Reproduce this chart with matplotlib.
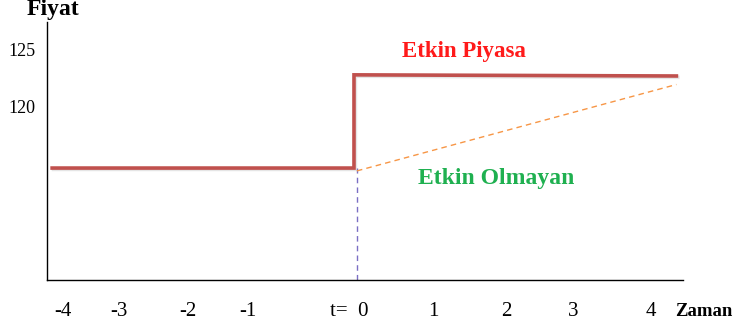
#!/usr/bin/env python3
"""Price path: efficient vs. inefficient market after a shock at t=0."""

import matplotlib

matplotlib.use("Agg")
import matplotlib.patheffects as pe
import matplotlib.pyplot as plt

# tick labels and their positions on the time axis (spacing in the source is uneven)
TICK_POS = [-4.0, -3.24, -2.30, -1.48, -0.10, 1.04, 2.04, 2.94, 4.0]
TICK_LABELS = ["-4", "-3", "-2", "-1", "t=  0", "1", "2", "3", "4"]
Y_TICKS = [120, 125]

# efficient market price path (step at t=0)
EFF_T = [-4.15, -0.04, -0.04, 4.35]
EFF_P = [114.55, 114.55, 122.75, 122.65]

# inefficient market: gradual adjustment
INEFF_T = [0.0, 4.35]
INEFF_P = [114.3, 121.9]

SHOCK_T = 0.0
X_MIN, X_MAX = -4.22, 4.44
Y_MIN, Y_MAX = 104.7, 127.4

plt.rcParams["font.family"] = ["Liberation Serif", "DejaVu Serif"]

fig = plt.figure(figsize=(7.35, 3.24), dpi=100)
ax = fig.add_axes([47 / 735, 1 - 280 / 324, 636 / 735, 258 / 324])

ax.plot(
    [SHOCK_T, SHOCK_T],
    [Y_MIN, EFF_P[0]],
    linestyle=(0, (4, 3)),
    color="#7b6fc4",
    linewidth=1.0,
)
ax.plot(
    INEFF_T,
    INEFF_P,
    linestyle=(0, (4, 3)),
    color="#f79646",
    linewidth=1.0,
)
ax.plot(
    EFF_T,
    EFF_P,
    color="#c0504d",
    linewidth=2.6,
    solid_joinstyle="miter",
    path_effects=[
        pe.SimpleLineShadow(offset=(1.0, -1.0), alpha=0.2, shadow_color="gray"),
        pe.Normal(),
    ],
)

ax.set_xlim(X_MIN, X_MAX)
ax.set_ylim(Y_MIN, Y_MAX)
for side in ["top", "right"]:
    ax.spines[side].set_visible(False)
ax.spines["left"].set_linewidth(1.0)
ax.spines["bottom"].set_linewidth(1.0)

ax.set_xticks(TICK_POS)
ax.set_xticklabels(TICK_LABELS, fontsize=15)
ax.set_yticks(Y_TICKS)
ax.set_yticklabels([str(v) for v in Y_TICKS], fontsize=13)
ax.tick_params(axis="x", length=0, pad=16)
ax.tick_params(axis="y", length=0, pad=8)

fig.text(27 / 735, 1 - 9 / 324, "Fiyat", fontsize=17, fontweight="bold", va="center")
fig.text(675 / 735, 1 - 311 / 324, "Zaman", fontsize=13.5, fontweight="bold", va="center")

ax.text(0.62, 124.8, "Etkin Piyasa", fontsize=16.5, fontweight="bold",
        color="#ff1a1a", va="center", ha="left")
ax.text(0.83, 113.6, "Etkin Olmayan", fontsize=17, fontweight="bold",
        color="#1fb050", va="center", ha="left")

fig.savefig("out.png", dpi=100)
plt.close(fig)
